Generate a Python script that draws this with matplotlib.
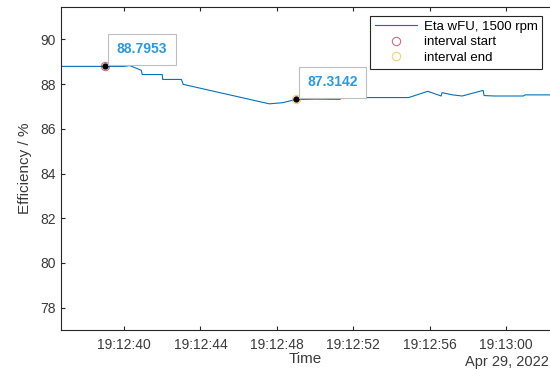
import datetime as dt
import matplotlib
matplotlib.use("Agg")
import matplotlib.pyplot as plt
import matplotlib.dates as mdates

plt.rcParams['font.family'] = ['Liberation Sans', 'DejaVu Sans']

# efficiency samples, seconds after 19:12:00 on 2022-04-29
sec = [36.0, 39.0, 40.0, 40.3, 40.9, 40.95, 42.0, 42.02, 43.0, 43.1,
       47.6, 48.3, 49.0, 50.0, 51.3, 51.4, 54.9, 55.9, 56.6, 56.65,
       57.2, 57.7, 58.8, 58.85, 59.4, 60.9, 61.0, 63.0]
eta = [88.7953, 88.7953, 88.7953, 88.83, 88.62, 88.43, 88.43, 88.21, 88.21, 87.99,
       87.12, 87.17, 87.3142, 87.33, 87.32, 87.40, 87.40, 87.68, 87.47, 87.62,
       87.52, 87.47, 87.72, 87.49, 87.47, 87.47, 87.52, 87.52]

start_sec, start_val = 39.0, 88.7953
end_sec, end_val = 49.0, 87.3142

yticks = [78, 80, 82, 84, 86, 88, 90]
tick_secs = [40, 44, 48, 52, 56, 60]

base = dt.datetime(2022, 4, 29, 19, 12, 0)
def ts(s):
    return base + dt.timedelta(seconds=s)

t = [ts(s) for s in sec]

fig = plt.figure(figsize=(5.5, 3.7), dpi=100)
ax = fig.add_axes([0.111, 0.108, 0.889, 0.873])

blue = '#0072BD'
dark = '#262626'
grey = '#3a3a3a'

ax.plot(t, eta, color=blue, lw=0.8, label='Eta wFU, 1500 rpm')
ax.plot([ts(start_sec)], [start_val], 'o', mfc='none', mec='#A2142F', ms=6, mew=0.8,
        alpha=0.6, label='interval start')
ax.plot([ts(end_sec)], [end_val], 'o', mfc='none', mec='#EDB120', ms=6, mew=0.8,
        alpha=0.6, label='interval end')

# data tips
for s, v in [(start_sec, start_val), (end_sec, end_val)]:
    ax.plot([ts(s)], [v], 'o', color='black', ms=3.5, zorder=5)
    ax.annotate(f"{v:.4f}", xy=(ts(s), v), xytext=(37, 17), textcoords='offset pixels',
                ha='center', va='center', fontsize=10, fontweight='bold', color='#2B9AD6',
                bbox=dict(boxstyle='square,pad=0.6', fc='white', ec='#BEBEBE', lw=0.8),
                zorder=6)

ax.set_xlim(ts(36.7), ts(62.3))
ax.set_ylim(77, 91.45)
ax.set_yticks(yticks)
ax.set_xticks([ts(s) for s in tick_secs])
ax.xaxis.set_major_formatter(mdates.DateFormatter('%H:%M:%S'))

for side in ['left', 'bottom', 'top']:
    ax.spines[side].set_color(dark)
    ax.spines[side].set_linewidth(0.8)
ax.spines['right'].set_visible(False)
ax.tick_params(direction='in', length=3, width=0.8, colors=dark, labelsize=10,
               top=True, right=False, labelcolor=grey)
ax.tick_params(axis='x', pad=6)

ax.set_ylabel('Efficiency / %', fontsize=11, color=grey, labelpad=6)
ax.set_xlabel('Time', fontsize=11, color=grey, labelpad=0)
fig.text(0.998, 0.022, 'Apr 29, 2022', ha='right', va='center', fontsize=10.5, color=grey)

leg = ax.legend(loc='upper right', bbox_to_anchor=(0.984, 0.972), fontsize=9.5,
                frameon=True, fancybox=False, framealpha=1, edgecolor=dark,
                handlelength=3.2, labelspacing=0.25, borderpad=0.35, handletextpad=0.5,
                borderaxespad=0)
leg.get_frame().set_linewidth(0.8)
for txt in leg.get_texts():
    txt.set_color('black')

fig.savefig('out.png', dpi=100)
